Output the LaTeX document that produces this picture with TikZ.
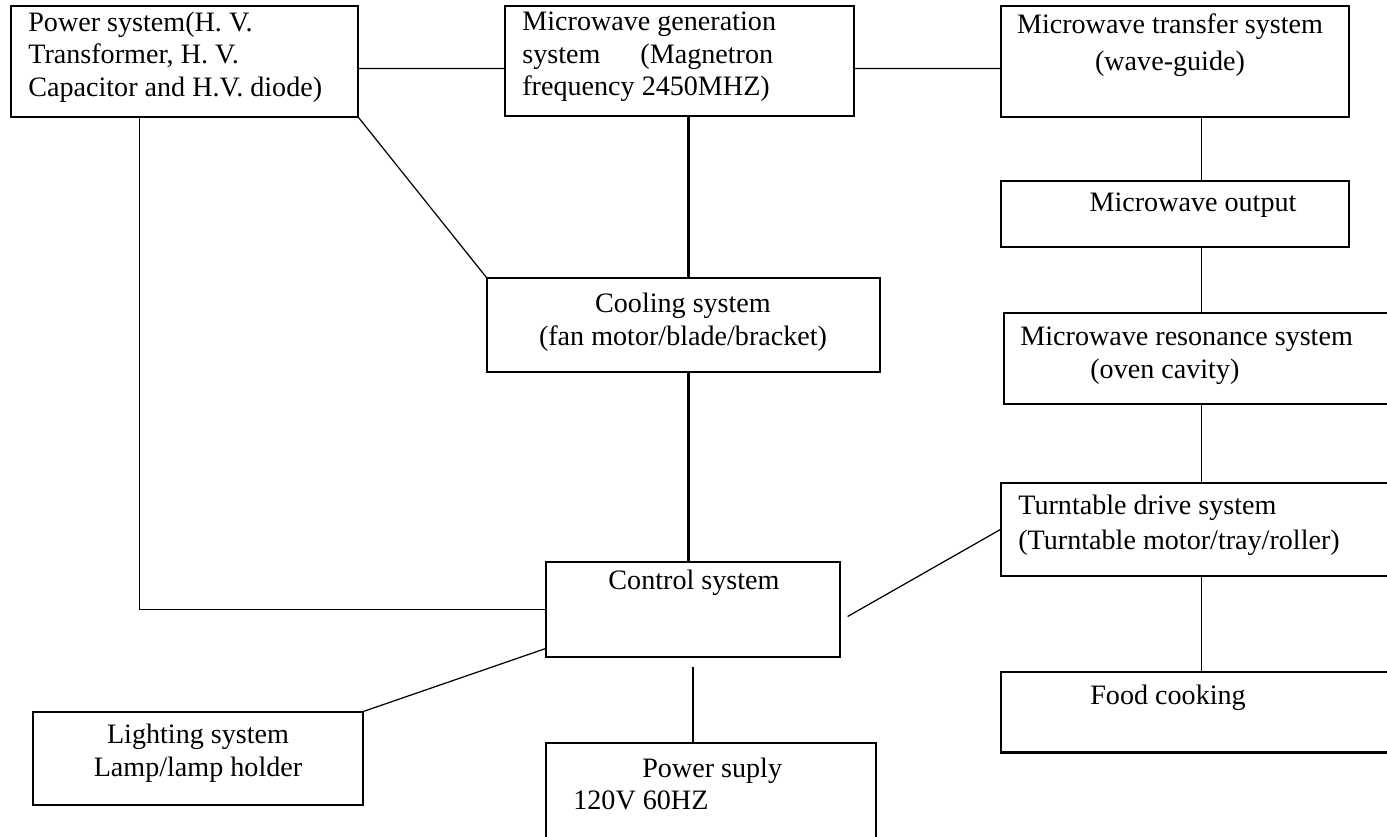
\documentclass[tikz,border=0pt]{standalone}
\usepackage{fontspec}
\setmainfont{Liberation Serif}
\usetikzlibrary{positioning, fit, calc}

\begin{document}
\begin{tikzpicture}[x=0.02cm, y=-0.02cm,
    box/.style={draw, line width=0.7pt, inner sep=0pt},
    txt/.style={inner sep=0pt, font=\fontsize{16}{18.6}\selectfont, align=left},
    link/.style={line width=0.7pt},
    bold/.style={line width=1.3pt}
  ]

  % Page
  \clip (0,0) rectangle (1387,836);
  \fill[white] (0,0) rectangle (1387,836);

  % Boxes
  \node[box, fit={(11,6) (358,117)}] (pw) {};
  \node[box, fit={(505,6) (854,116)}] (mg) {};
  \node[box, fit={(1001,6) (1349,117)}] (tr) {};
  \node[box, fit={(1001,181) (1349,247)}] (op) {};
  \node[box, fit={(1004,313) (1395,404)}] (rs) {};
  \node[box, fit={(487,278) (880,372)}] (cl) {};
  \node[box, fit={(1001,483) (1395,576)}] (tt) {};
  \node[box, fit={(546,562) (840,657)}] (ct) {};
  \node[box, fit={(1001,672) (1395,752)}] (fc) {};
  \node[box, fit={(33,712) (363,805)}] (lt) {};
  \node[box, fit={(546,743) (876,845)}] (ps) {};
  \draw[bold] (fc.south west) -- (fc.south east);

  % Texts
  \node[txt, anchor=west] (pwt) at (28,57) {Power system(H. V.\\Transformer, H. V.\\Capacitor and H.V. diode)};
  \node[txt, anchor=west] (mgt) at (522,57) {Microwave generation\\system\hspace{0.8cm}(Magnetron\\frequency 2450MHZ)};
  \node[txt, align=center] (trt) at (1170,45) {Microwave transfer system\\[2.5pt](wave-guide)};
  \node[txt] (opt) at (1193,205) {Microwave output};
  \node[txt, anchor=west] (rst) at (1020,356) {Microwave resonance system\\\hspace{1.4cm}(oven cavity)};
  \node[txt, align=center] (clt) at (683,322) {Cooling system\\(fan motor/blade/bracket)};
  \node[txt, anchor=west] (ttt) at (1018,525) {Turntable drive system\\[1.5pt](Turntable motor/tray/roller)};
  \node[txt] (ctt) at (694,583) {Control system};
  \node[txt, anchor=west] (fct) at (1090,698) {Food cooking};
  \node[txt, align=center] (ltt) at (198,753) {Lighting system\\Lamp/lamp holder};
  \node[txt, anchor=west] (pst) at (573,784) {\hspace{1.38cm}Power suply\\120V 60HZ};

  % Connections
  \draw[link] ($(pw.north east)+(0,63)$) -- ($(mg.north west)+(0,63)$);
  \draw[link] ($(mg.north east)+(0,63)$) -- ($(tr.north west)+(0,63)$);
  \draw[bold] ($(mg.south west)+(184,0)$) -- ($(cl.north west)+(202,0)$);
  \draw[link] (pw.south east) -- (cl.north west);
  \draw[link] ($(pw.south west)+(129,0)$) |- (ct.west);
  \draw[link] ($(tr.south west)+(201,0)$) -- ($(op.north west)+(201,0)$);
  \draw[link] ($(op.south west)+(201,0)$) -- ($(rs.north west)+(198,0)$);
  \draw[link] ($(rs.south west)+(198,0)$) -- ($(tt.north west)+(201,0)$);
  \draw[link] ($(tt.south west)+(201,0)$) -- ($(fc.north west)+(201,0)$);
  \draw[bold] ($(cl.south west)+(202,0)$) -- ($(ct.north west)+(143,0)$);
  \draw[link] ($(ct.east)+(7,7)$) -- (tt.west);
  \draw[link] ($(ct.south west)+(0,-9)$) -- (lt.north east);
  \draw[link] ($(ct.south)+(0,9)$) -- (ct.south |- ps.north);

\end{tikzpicture}
\end{document}
